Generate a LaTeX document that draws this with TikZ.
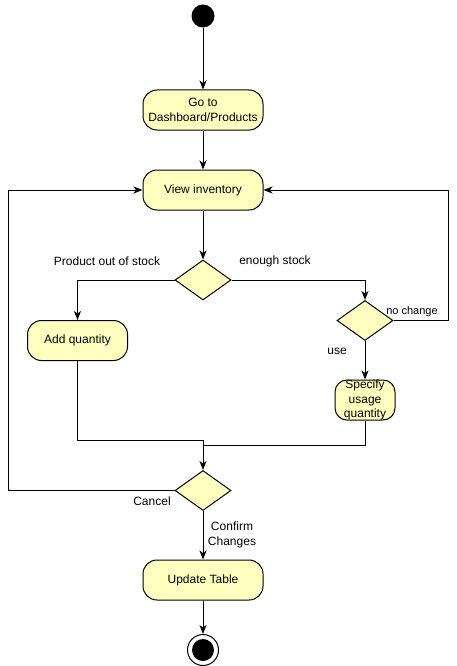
\documentclass[tikz,border=0pt]{standalone}
\usepackage{fontspec}
\setmainfont{Liberation Sans}
\usetikzlibrary{arrows.meta,shapes.geometric}
\definecolor{actfill}{HTML}{FFFFC0}
\begin{document}
\begin{tikzpicture}[x=1pt,y=-1pt, line width=1pt,
  font=\fontsize{12}{14.5}\selectfont,
  act/.style={draw, fill=actfill, rounded corners=14pt, minimum width=120pt, minimum height=40pt, align=center, inner sep=1pt},
  dec/.style={draw, fill=actfill, diamond, minimum width=56pt, minimum height=40pt, inner sep=0pt},
  arr/.style={-{Stealth[length=9pt,width=7pt,inset=2.5pt]}},
  lbl/.style={inner sep=0pt, align=center}]
\useasboundingbox (0,0) rectangle (456,666);
\node[circle, fill=black, minimum size=23pt, inner sep=0pt] (start) at (203,16) {};
\node[act] (goto) at (203,110) {Go to\\Dashboard/Products};
\node[act] (view) at (203,190) {View inventory};
\node[dec] (d1) at (203,280) {};
\node[act, minimum width=100pt] (addq) at (77.5,340.5) {Add quantity};
\node[dec] (d2) at (365,320.5) {};
\node[act, minimum width=60pt, rounded corners=12pt] (spec) at (365,400) {};
\node[lbl, font=\fontsize{12}{14.5}\selectfont] (specT) at (spec.center) {Specify\\usage\\quantity};
\node[dec] (d3) at (203,490.5) {};
\node[act] (upd) at (203,580) {Update Table};
\node[circle, draw, line width=1pt, minimum size=31pt, inner sep=0pt] (end) at (203,650) {};
\node[circle, fill=black, minimum size=22pt, inner sep=0pt] (endin) at (end.center) {};

\coordinate (rc) at (448,190);
\coordinate (lc) at (8,190);
\coordinate (j1) at (203,440);
\coordinate (j2) at (203,445);

\draw[arr] (start) -- (goto);
\draw[arr] (goto) -- (view);
\draw[arr] (view) -- (d1);
\draw[arr] (d1.west) -| (addq.north);
\draw[arr] (d1.east) -| (d2.north);
\draw[arr] (d2.east) -| (rc) -- (view.east);
\draw[arr] (d2) -- (spec);
\draw (addq.south) |- (j1);
\draw (spec.south) |- (j2);
\draw[arr] (j1) -- (d3.north);
\draw[arr] (d3.west) -| (lc) -- (view.west);
\draw[arr] (d3) -- (upd);
\draw[arr] (upd) -- (end);

\node[lbl] (l1) at (107,261) {Product out of stock};
\node[lbl] (l2) at (275,261) {enough stock};
\node[lbl, font=\fontsize{11}{13}\selectfont] (l3) at (412,312) {no change};
\node[lbl] (l4) at (337,351) {use};
\node[lbl] (l5) at (152,501) {Cancel};
\node[lbl] (l6) at (232,535) {Confirm\\Changes};
\end{tikzpicture}
\end{document}
